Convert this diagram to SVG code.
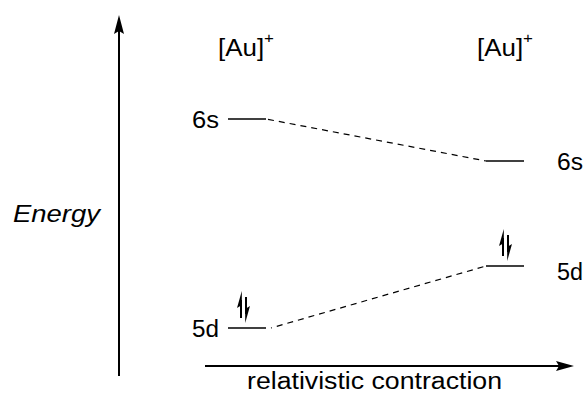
<svg xmlns="http://www.w3.org/2000/svg" width="583" height="394" viewBox="0 0 583 394">
<style>
text{font-family:"Liberation Sans",Arial,sans-serif;font-size:23px;fill:#000}
.lvl{stroke:#000;stroke-width:1.5;fill:none}
.dash{stroke:#000;stroke-width:1.2;stroke-dasharray:6 5;fill:none}
.ax{stroke:#000;stroke-width:2;fill:none}
.e{stroke:#000;stroke-width:2;fill:none}
</style>
<rect width="583" height="394" fill="#fff"/>
<g id="axes">
<line class="ax" x1="119" y1="376" x2="119" y2="30"/>
<polygon points="119,15 114,34 119,31 124,34" fill="#000"/>
<line class="ax" x1="205" y1="366" x2="560" y2="366"/>
<polygon points="574,366 556,361 559,366 556,371" fill="#000"/>
<text x="13" y="222" font-style="italic" textLength="87" lengthAdjust="spacingAndGlyphs">Energy</text>
<text x="247" y="389" textLength="255" lengthAdjust="spacingAndGlyphs">relativistic contraction</text>
</g>
<g id="au-left">
<text x="218" y="56" textLength="56" lengthAdjust="spacingAndGlyphs">[Au]<tspan dy="-13" font-size="15">+</tspan></text>
</g>
<g id="au-right">
<text x="477" y="56" textLength="56" lengthAdjust="spacingAndGlyphs">[Au]<tspan dy="-13" font-size="15">+</tspan></text>
</g>
<g id="6s-left">
<line class="lvl" x1="228" y1="119" x2="266" y2="119"/>
<text x="192" y="128" textLength="27" lengthAdjust="spacingAndGlyphs">6s</text>
</g>
<g id="6s-right">
<line class="lvl" x1="486" y1="161" x2="524" y2="161"/>
<text x="557" y="170" textLength="26" lengthAdjust="spacingAndGlyphs">6s</text>
</g>
<g id="5d-left">
<line class="lvl" x1="228" y1="328" x2="266" y2="328"/>
<text x="192" y="337" textLength="27" lengthAdjust="spacingAndGlyphs">5d</text>
<line class="e" x1="241" y1="318" x2="241" y2="300"/>
<polygon points="241.8,291 237,308 241.8,305" fill="#000"/>
<line class="e" x1="246" y1="297" x2="246" y2="314"/>
<polygon points="245.2,323 250,306 245.2,309" fill="#000"/>
</g>
<g id="5d-right">
<line class="lvl" x1="486" y1="266" x2="524" y2="266"/>
<text x="557" y="280" textLength="26" lengthAdjust="spacingAndGlyphs">5d</text>
<line class="e" x1="503" y1="256" x2="503" y2="238"/>
<polygon points="503.8,229 499,246 503.8,243" fill="#000"/>
<line class="e" x1="508" y1="235" x2="508" y2="252"/>
<polygon points="507.2,261 512,244 507.2,247" fill="#000"/>
</g>
<g id="connectors">
<line class="dash" x1="268" y1="119.4" x2="486" y2="161"/>
<line class="dash" x1="271" y1="328" x2="486" y2="266" stroke-dashoffset="5"/>
</g>
</svg>
